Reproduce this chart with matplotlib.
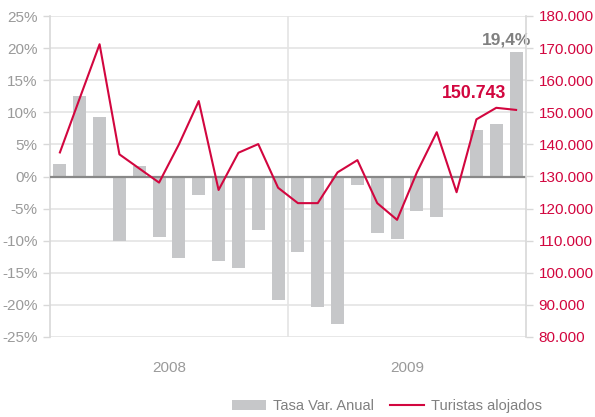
import matplotlib
matplotlib.use("Agg")
import matplotlib.pyplot as plt
from matplotlib.patches import Patch
from matplotlib.lines import Line2D
import numpy as np

plt.rcParams['font.family'] = ['Liberation Sans', 'DejaVu Sans']

months = ["Ene 08", "Feb 08", "Mar 08", "Abr 08", "May 08", "Jun 08", "Jul 08", "Ago 08",
          "Sep 08", "Oct 08", "Nov 08", "Dic 08", "Ene 09", "Feb 09", "Mar 09", "Abr 09",
          "May 09", "Jun 09", "Jul 09", "Ago 09", "Sep 09", "Oct 09", "Nov 09", "Dic 09"]
tasa = [2.0, 12.5, 9.2, -10.1, 1.6, -9.4, -12.7, -2.9, -13.2, -14.3, -8.4, -19.3,
        -11.7, -20.3, -23.0, -1.4, -8.8, -9.7, -5.3, -6.3, -0.3, 7.3, 8.1, 19.4]
turistas = [137500, 154400, 171200, 136900, 132500, 128100, 140000, 153500, 125800, 137400,
            140100, 126500, 121700, 121700, 131300, 135100, 121700, 116500, 131300, 143800,
            125100, 147800, 151400, 150743]
years = ["2008", "2009"]
left_ticks = [-25, -20, -15, -10, -5, 0, 5, 10, 15, 20, 25]
right_ticks = [80000, 90000, 100000, 110000, 120000, 130000, 140000, 150000, 160000, 170000, 180000]

GRAY_BAR = "#c6c7c9"
RED = "#d2063f"
TXT = "#9a9a9a"
GRID = "#e4e4e4"

fig = plt.figure(figsize=(5.95, 4.17), dpi=100)
ax = fig.add_axes([50/595, 1-337/417, 476/595, 321/417])
ax2 = ax.twinx()

x = np.arange(len(months))
ax.bar(x, tasa, width=0.66, color=GRAY_BAR, zorder=2)
ax.set_xlim(-0.5, len(months) - 0.5)
ax.set_ylim(-25, 25)
ax.set_yticks(left_ticks)
ax.set_yticklabels([f"{v}%" for v in left_ticks])
for v in left_ticks:
    if v != 0:
        ax.axhline(v, color=GRID, lw=1.2, zorder=0)
ax.axhline(0, color="#888888", lw=1.6, zorder=3)
ax.axvline(11.5, color=GRID, lw=1.2, zorder=0)

ax.set_xticks([5.5, 17.5])
ax.set_xticklabels(years)
ax.tick_params(axis='x', length=0, pad=17, labelsize=11, labelcolor=TXT)
ax.tick_params(axis='y', length=5, width=1, color="#d8d8d8", labelsize=11, labelcolor=TXT, pad=4)

for s in ["top", "bottom", "right"]:
    ax.spines[s].set_visible(False)
ax.spines["left"].set_color("#d8d8d8")
ax.spines["left"].set_linewidth(1.2)

ax2.plot(x, turistas, color=RED, lw=1.5, zorder=4)
ax2.set_ylim(80000, 180000)
ax2.set_yticks(right_ticks)
ax2.set_yticklabels([f"{v:,}".replace(",", ".") for v in right_ticks])
ax2.tick_params(axis='y', length=5, width=1, color="#d8d8d8", labelsize=11, labelcolor=RED, pad=4)
for s in ["top", "bottom", "left"]:
    ax2.spines[s].set_visible(False)
ax2.spines["right"].set_color("#d8d8d8")
ax2.spines["right"].set_linewidth(1.2)

ax.text(23.75, 21.2, "19,4%", ha="right", va="center", fontsize=12.5,
        fontweight="bold", color="#808080", zorder=5, clip_on=False)
ax2.text(20.9, 150743 + 5100, "150.743", ha="center", va="center", fontsize=12.8,
         fontweight="bold", color=RED, zorder=5)

handles = [Patch(facecolor=GRAY_BAR, edgecolor="none"),
           Line2D([0], [0], color=RED, lw=1.5)]
fig.legend(handles, ["Tasa Var. Anual", "Turistas alojados"], loc="center",
           bbox_to_anchor=(387/595, 1-406/417), ncol=2, frameon=False, fontsize=10.5,
           labelcolor="#808080", handlelength=2.3, handleheight=0.7, columnspacing=1.1,
           handletextpad=0.5, borderpad=0)

fig.savefig("out.png", dpi=100)
